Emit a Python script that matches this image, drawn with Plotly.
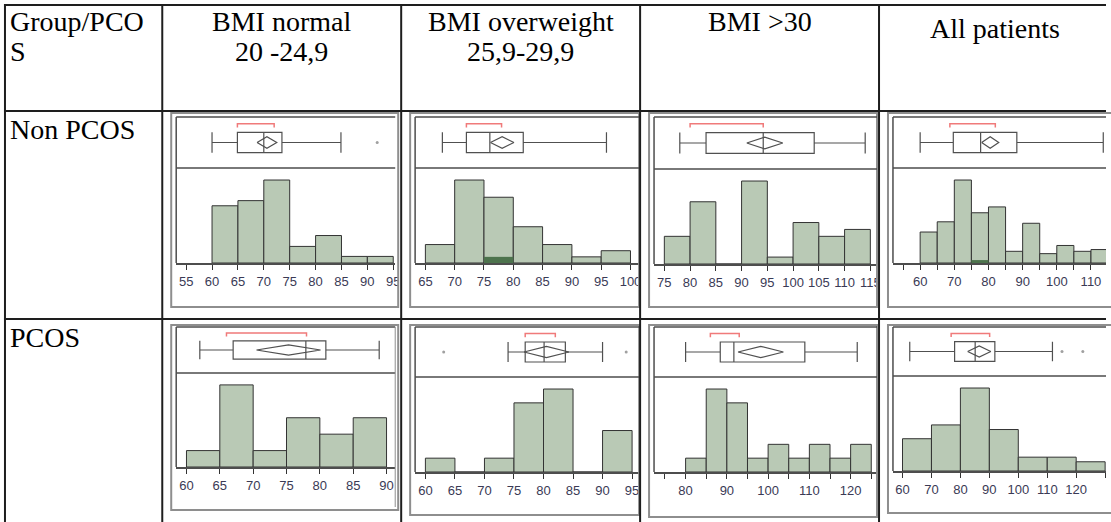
import plotly.graph_objects as go

W, H = 1111, 522

# ---------------- text ----------------
corner_lines = ["Group/PCO", "S"]
col_header_lines = [["BMI normal", "20 -24,9"], ["BMI overweight", "25,9-29,9"], ["BMI >30"], ["All patients"]]
row_labels = ["Non PCOS", "PCOS"]

# ---------------- histogram data (bin left edges, bar heights) ----------------
np_normal_left = [60, 65, 70, 75, 80, 85, 90]
np_normal_counts = [10.0, 10.9, 14.5, 2.9, 4.8, 1.15, 1.15]
np_over_left = [65, 70, 75, 80, 85, 90, 95]
np_over_counts = [3, 13.5, 10.7, 5.9, 3, 1, 2]
np_over_sel = [0, 0, 1, 0, 0, 0, 0]
np_obese_left = [75, 80, 85, 90, 95, 100, 105, 110]
np_obese_counts = [4, 9, 0, 12, 1, 6, 4, 5]
np_all_left = [60, 65, 70, 75, 80, 85, 90, 95, 100, 105, 110]
np_all_counts = [10.6, 14.1, 28.4, 17.2, 19.2, 4, 13.6, 3.2, 6, 4, 4.6]
np_all_sel = [0, 0, 0, 1, 0, 0, 0, 0, 0, 0, 0]
p_normal_left = [60, 65, 70, 75, 80, 85]
p_normal_counts = [1, 5, 1, 3, 2, 3]
p_over_left = [60, 65, 70, 75, 80, 85, 90]
p_over_counts = [1, 0, 1, 5, 6, 0, 3]
p_obese_left = [80, 85, 90, 95, 100, 105, 110, 115, 120]
p_obese_counts = [1, 6, 5, 1, 2, 1, 2, 1, 2]
p_all_left = [60, 70, 80, 90, 100, 110, 120]
p_all_counts = [7, 10, 18, 9, 3, 3, 2]

# ---------------- box plot data: [low whisker, q1, median, q3, high whisker] ----------------
np_normal_box = [60, 64.9, 70, 73.5, 84.9]
np_over_box = [67.9, 72, 76, 81.7, 95.9]
np_obese_box = [78, 83.1, 94.2, 104.1, 114]
np_all_box = [60, 69.7, 77.7, 88.3, 113.6]
p_normal_box = [62, 67, 77.9, 80.9, 88.9]
p_over_box = [74, 76.9, 80.1, 83.7, 90]
p_obese_box = [80, 88.4, 91.7, 108.9, 121.6]
p_all_box = [62.5, 78, 85.1, 91.9, 111.8]
# mean and 95% CI half width (mean diamond)
np_normal_mean = [70.6, 1.9]
np_over_mean = [78.1, 2.0]
np_obese_mean = [94.5, 3.5]
np_all_mean = [80.5, 2.5]
p_normal_mean = [75.3, 4.8]
p_over_mean = [80.5, 3.8]
p_obese_mean = [98.2, 5.5]
p_all_mean = [86.5, 4.0]
# shortest half bracket
np_normal_short = [64.9, 72.0]
np_over_short = [72, 78]
np_obese_short = [80, 94.2]
np_all_short = [68.7, 82]
p_normal_short = [66, 78]
p_over_short = [76.9, 82]
p_obese_short = [86, 93]
p_all_short = [76.8, 90.1]
# outliers
np_normal_out = [91.9]
np_over_out = []
np_obese_out = []
np_all_out = []
p_normal_out = []
p_over_out = [63.1, 94]
p_obese_out = []
p_all_out = [115.1, 122.3]

# ---------------- tick values / labels ----------------
np_normal_ticks = [55, 60, 65, 70, 75, 80, 85, 90, 95]
np_over_ticks = [65, 70, 75, 80, 85, 90, 95, 100]
np_obese_ticks = [75, 80, 85, 90, 95, 100, 105, 110, 115]
np_all_ticks = [55, 60, 65, 70, 75, 80, 85, 90, 95, 100, 105, 110]
np_all_ticklabels = ["", "60", "", "70", "", "80", "", "90", "", "100", "", "110"]
p_normal_ticks = [60, 65, 70, 75, 80, 85, 90]
p_over_ticks = [60, 65, 70, 75, 80, 85, 90, 95]
p_obese_ticks = [75, 80, 85, 90, 95, 100, 105, 110, 115, 120, 125]
p_obese_ticklabels = ["", "80", "", "90", "", "100", "", "110", "", "120", ""]
p_all_ticks = [60, 70, 80, 90, 100, 110, 120, 130]

panels = [
    dict(r=0, c=0, left=np_normal_left, bw=5, counts=np_normal_counts, sel=None, box=np_normal_box,
         mean=np_normal_mean, short=np_normal_short, out=np_normal_out, ticks=np_normal_ticks, labels=None,
         xr=[53.08, 95.38], y=(113, 117, 168, 263, 307)),
    dict(r=0, c=1, left=np_over_left, bw=5, counts=np_over_counts, sel=np_over_sel, box=np_over_box,
         mean=np_over_mean, short=np_over_short, out=np_over_out, ticks=np_over_ticks, labels=None,
         xr=[63.25, 101.47], y=(113, 117, 168, 263, 307)),
    dict(r=0, c=2, left=np_obese_left, bw=5, counts=np_obese_counts, sel=None, box=np_obese_box,
         mean=np_obese_mean, short=np_obese_short, out=np_obese_out, ticks=np_obese_ticks, labels=None,
         xr=[73.0, 116.3], y=(113, 117, 169, 264, 307)),
    dict(r=0, c=3, left=np_all_left, bw=5, counts=np_all_counts, sel=np_all_sel, box=np_all_box,
         mean=np_all_mean, short=np_all_short, out=np_all_out, ticks=np_all_ticks, labels=np_all_ticklabels,
         xr=[52.04, 114.4], y=(113, 117, 168, 263, 307)),
    dict(r=1, c=0, left=p_normal_left, bw=5, counts=p_normal_counts, sel=None, box=p_normal_box,
         mean=p_normal_mean, short=p_normal_short, out=p_normal_out, ticks=p_normal_ticks, labels=None,
         xr=[58.46, 91.3], y=(325, 327, 373, 467, 510)),
    dict(r=1, c=1, left=p_over_left, bw=5, counts=p_over_counts, sel=None, box=p_over_box,
         mean=p_over_mean, short=p_over_short, out=p_over_out, ticks=p_over_ticks, labels=None,
         xr=[58.26, 96.19], y=(325, 327, 377, 472, 515)),
    dict(r=1, c=2, left=p_obese_left, bw=5, counts=p_obese_counts, sel=None, box=p_obese_box,
         mean=p_obese_mean, short=p_obese_short, out=p_obese_out, ticks=p_obese_ticks, labels=p_obese_ticklabels,
         xr=[72.35, 126.4], y=(325, 327, 377, 472, 517)),
    dict(r=1, c=3, left=p_all_left, bw=10, counts=p_all_counts, sel=None, box=p_all_box,
         mean=p_all_mean, short=p_all_short, out=p_all_out, ticks=p_all_ticks, labels=None,
         xr=[56.7, 130.3], y=(325, 327, 376, 471, 513)),
]

# column geometry in px: outer_left, inner_left, inner_right, outer_right
col_geo = [(172, 177, 397, 400), (412, 417, 642, 642), (652, 657, 881, 881), (892, 897, 1111, 1120)]

BAR_FILL = "#b9c9b5"
BAR_SEL = "#4d734d"
BAR_LINE = "#333333"
BOX_LINE = "#505050"
RED = "#f07a7a"
TICK_COLOR = "#3a3a55"
FRAME = "#8e8e8e"
INNER = "#4d4d4d"
TABLE = "#1e1e1e"


def px(x):
    return x / W


def py(y):
    return 1 - y / H


fig = go.Figure()
layout = dict(width=W, height=H, margin=dict(l=0, r=0, t=0, b=0), paper_bgcolor="white",
              plot_bgcolor="rgba(0,0,0,0)", showlegend=False, barmode="overlay")
shapes = []

for i, p in enumerate(panels):
    kh, kb = 2 * i + 1, 2 * i + 2
    xh, yh = f"x{kh}", f"y{kh}"
    xb, yb = f"x{kb}", f"y{kb}"
    ol, il, ir, orr = col_geo[p["c"]]
    ot, it, sep, base, ob = p["y"]
    dom_x = [px(il), min(1.0, px(ir))]
    # histogram
    centers = [l + p["bw"] / 2 for l in p["left"]]
    fig.add_trace(go.Bar(x=centers, y=p["counts"], width=[p["bw"]] * len(centers),
                         marker=dict(color=BAR_FILL, line=dict(color=BAR_LINE, width=1)),
                         xaxis=xh, yaxis=yh, hoverinfo="skip"))
    if p["sel"] is not None:
        fig.add_trace(go.Bar(x=centers, y=p["sel"], width=[p["bw"]] * len(centers),
                             marker=dict(color=BAR_SEL, line=dict(width=0)),
                             xaxis=xh, yaxis=yh, hoverinfo="skip"))
    ymax = max(p["counts"]) * 1.145
    labels = p["labels"] if p["labels"] is not None else [str(t) for t in p["ticks"]]
    layout["xaxis" + (str(kh) if kh > 1 else "")] = dict(
        domain=dom_x, range=p["xr"], anchor=yh, showgrid=False, zeroline=False,
        showline=True, linecolor=INNER, linewidth=1.5, ticks="outside", ticklen=5, tickwidth=1,
        tickcolor="#333333", tickmode="array", tickvals=p["ticks"], ticktext=labels,
        tickfont=dict(family="Arial, Liberation Sans", size=13, color=TICK_COLOR), ticklabelstandoff=1,
        fixedrange=True)
    layout["yaxis" + str(kh)] = dict(domain=[py(base), py(sep)], range=[0, ymax], anchor=xh,
                                      visible=False, fixedrange=True)
    # box plot
    lw, q1, med, q3, uw = p["box"]
    fig.add_trace(go.Box(y=[0], q1=[q1], median=[med], q3=[q3], lowerfence=[lw], upperfence=[uw],
                         orientation="h", width=1.0, whiskerwidth=1, boxpoints=False,
                         fillcolor="rgba(0,0,0,0)", line=dict(color=BOX_LINE, width=1.2),
                         xaxis=xb, yaxis=yb, hoverinfo="skip"))
    m, hw = p["mean"]
    fig.add_trace(go.Scatter(x=[m - hw, m, m + hw, m, m - hw], y=[0, 0.28, 0, -0.28, 0], mode="lines",
                             line=dict(color=BOX_LINE, width=1.2), xaxis=xb, yaxis=yb, hoverinfo="skip"))
    s0, s1 = p["short"]
    fig.add_trace(go.Scatter(x=[s0, s0, s1, s1], y=[0.74, 0.92, 0.92, 0.74], mode="lines",
                             line=dict(color=RED, width=1.5), xaxis=xb, yaxis=yb, hoverinfo="skip"))
    if p["out"]:
        fig.add_trace(go.Scatter(x=p["out"], y=[0] * len(p["out"]), mode="markers",
                                 marker=dict(color="#a0a0a0", size=3), xaxis=xb, yaxis=yb, hoverinfo="skip"))
    layout["xaxis" + str(kb)] = dict(domain=dom_x, range=p["xr"], anchor=yb, visible=False, fixedrange=True)
    layout["yaxis" + str(kb)] = dict(domain=[py(sep), py(it)], range=[-1.25, 1.25], anchor=xb,
                                      visible=False, fixedrange=True)

# clipping rectangles (hide tick label overflow beyond panel edges)
clip_spans = [(400, 411), (642.5, 651), (881.5, 891)]
for x0, x1 in clip_spans:
    for (y0, y1) in [(255, 310), (465, 520)]:
        shapes.append(dict(type="rect", xref="paper", yref="paper", x0=px(x0), x1=px(x1), y0=py(y1), y1=py(y0),
                           fillcolor="white", line=dict(width=0), layer="above"))

# panel frames
for p in panels:
    ol, il, ir, orr = col_geo[p["c"]]
    ot, it, sep, base, ob = p["y"]
    shapes.append(dict(type="rect", xref="paper", yref="paper", x0=px(ol), x1=px(orr), y0=py(ob), y1=py(ot),
                       line=dict(color=FRAME, width=2), layer="above"))
    for (x0, y0, x1, y1) in [(il, it, ir, it), (il, it, il, base), (il, sep, ir, sep)]:
        shapes.append(dict(type="line", xref="paper", yref="paper", x0=px(x0), y0=py(y0), x1=px(x1), y1=py(y1),
                           line=dict(color=INNER, width=1.5), layer="above"))
    if p["c"] == 0 and p["r"] == 1:
        shapes.append(dict(type="line", xref="paper", yref="paper", x0=px(ir), y0=py(it), x1=px(ir), y1=py(ob - 3),
                           line=dict(color=FRAME, width=1), layer="above"))

# table grid
for x in [5, 163, 403, 643, 883]:
    shapes.append(dict(type="line", xref="paper", yref="paper", x0=px(x), x1=px(x), y0=0, y1=py(4),
                       line=dict(color=TABLE, width=2), layer="above"))
for y in [5, 111, 319]:
    shapes.append(dict(type="line", xref="paper", yref="paper", x0=px(4), x1=1, y0=py(y), y1=py(y),
                       line=dict(color=TABLE, width=2), layer="above"))

layout["shapes"] = shapes

# table text
SERIF = "Liberation Serif, Times New Roman, serif"
ann = []
tf = dict(family=SERIF, size=28, color="#000000")
for j, line in enumerate(corner_lines):
    ann.append(dict(text=line, x=px(8), y=py(21 + 31 * j), xref="paper", yref="paper", xanchor="left",
                    yanchor="middle", showarrow=False, font=tf))
col_centers = [283, 523, 763, 1000]
col_first_y = [21, 21, 21, 28]
for c, lines in enumerate(col_header_lines):
    for j, line in enumerate(lines):
        ann.append(dict(text=line, x=px(col_centers[c]), y=py(col_first_y[c] + 31 * j), xref="paper", yref="paper",
                        xanchor="center", yanchor="middle", showarrow=False, font=tf))
row_y = [129, 337]
for r, lab in enumerate(row_labels):
    ann.append(dict(text=lab, x=px(8), y=py(row_y[r]), xref="paper", yref="paper", xanchor="left",
                    yanchor="middle", showarrow=False, font=tf))
layout["annotations"] = ann

fig.update_layout(**layout)
fig.write_html("out.html", config={"displayModeBar": False, "staticPlot": True},
               post_script="document.body.style.margin='0';document.body.style.overflow='hidden';")
